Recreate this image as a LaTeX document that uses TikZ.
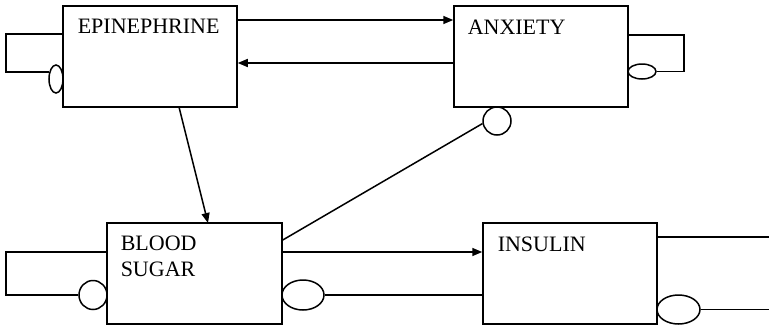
\documentclass[tikz,border=0pt]{standalone}
\usepackage{fontspec}
\setmainfont{Liberation Serif}
\usetikzlibrary{arrows.meta,shapes.geometric}
\begin{document}
\begin{tikzpicture}[x=1pt,y=-1pt,
  line width=1.5pt,
  varbox/.style={draw,rectangle,inner sep=0pt,minimum width=#1,minimum height=101pt},
  varbox/.default=174pt,
  lbl/.style={anchor=base west,inner sep=0pt,font=\fontsize{22}{26}\selectfont,align=left},
  blob/.style={draw,ellipse,inner sep=0pt,fill=white},
  act/.style={-{Triangle[length=10pt,width=8pt]}}]
\useasboundingbox (0,0) rectangle (769,327);

% variable boxes
\node[varbox] (epi) at (150,56.5) {};
\node[varbox] (anx) at (541,56.5) {};
\node[varbox=175pt] (bs)  at (194.5,273.5) {};
\node[varbox] (ins) at (570,273.5) {};

% labels (base anchor of a two-line node sits on its last line)
\node[lbl] (tepi) at (77,33) {EPINEPHRINE};
\node[lbl] (tanx) at (467,34) {ANXIETY};
\node[lbl] (tbs)  at (120,276) {BLOOD\\SUGAR};
\node[lbl] (tins) at (497,251) {INSULIN};

% inhibition terminals
\node[blob,minimum width=14pt,minimum height=28pt] (e1) at (56,79) {};
\node[blob,minimum width=28pt,minimum height=15pt] (e2) at (642,71.5) {};
\node[blob,minimum width=28pt,minimum height=28pt] (c1) at (497,121) {};
\node[blob,minimum width=28pt,minimum height=29pt] (c2) at (93,295) {};
\node[blob,minimum width=42pt,minimum height=30pt] (e3) at (303,295) {};
\node[blob,minimum width=43pt,minimum height=29pt] (e4) at (678.5,309.5) {};

% free ends on the right
\coordinate (r1) at (769,237);
\coordinate (r2) at (769,309.5);

% self loops
\draw (epi.west |- 0,34) -- (6,34) |- (e1.135);
\draw (anx.east |- 0,35) -- (684,35) |- (e2.east);
\draw (bs.west |- 0,252) -- (6,252) |- (c2.west);

% activations
\draw[act] (epi.east |- 0,20) -- (anx.west |- 0,20);
\draw[act] (anx.west |- 0,63) -- (epi.east |- 0,63);
\draw[act] (179,107) -- (208,223);
\draw[act] (bs.east |- 0,252) -- (ins.west |- 0,252);

% inhibitions
\draw (bs.east |- 0,240) -- (c1.190);
\draw (e3.east) -- (ins.west |- e3.east);
\draw (ins.east |- r1) -- (r1);
\draw (e4.east) -- (r2);
\end{tikzpicture}
\end{document}
